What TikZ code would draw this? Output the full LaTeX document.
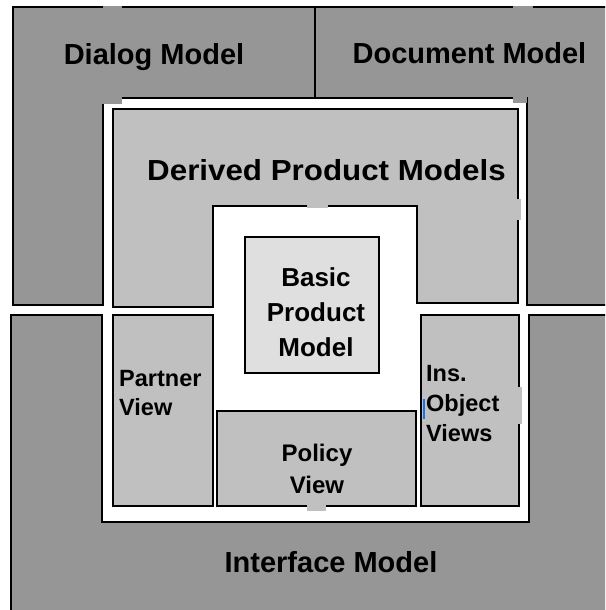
\documentclass[tikz,border=0pt]{standalone}
\usepackage{fontspec}
\usepackage{graphicx}
\setmainfont{Liberation Sans}
\definecolor{darkgrey}{HTML}{969696}
\definecolor{midgrey}{HTML}{C0C0C0}
\definecolor{lightgrey}{HTML}{DFDFDF}
\definecolor{caretblue}{HTML}{1A6EF0}
\begin{document}
\begin{tikzpicture}[x=1pt,y=-1pt,
  frame/.style={draw=black,line width=1.5pt,line join=miter},
  outerpart/.style={frame,fill=darkgrey},
  innerpart/.style={frame,fill=midgrey},
  corepart/.style={frame,fill=lightgrey},
  biglabel/.style={font=\bfseries\fontsize{29}{34}\selectfont,inner sep=0pt},
  boxlabel/.style={inner sep=0pt}]
\useasboundingbox (0,0) rectangle (605,610);
\clip (0,0) rectangle (605,610);

% outer ring: dialog, document and interface models
\draw[outerpart] (13,7) -- (315,7) -- (315,98) -- (103,98) -- (103,305) -- (13,305) -- cycle;
\draw[outerpart] (315,7) -- (615,7) -- (615,305) -- (527,305) -- (527,98) -- (315,98) -- cycle;
\draw[outerpart] (11,315) -- (102,315) -- (102,522) -- (529,522) -- (529,315)
  -- (615,315) -- (615,620) -- (11,620) -- cycle;
% small seams where the outer pieces meet
\fill[darkgrey] (103,6) rectangle (122,9);
\fill[darkgrey] (102,97) rectangle (122,104);
\fill[darkgrey] (513,6) rectangle (533,9);
\fill[darkgrey] (513,97) rectangle (527,103);

% derived product models (inverted U) and the three views
\draw[innerpart] (113,109) -- (518,109) -- (518,303) -- (417,303) -- (417,206)
  -- (213,206) -- (213,307) -- (113,307) -- cycle;
\fill[midgrey] (512,199) rectangle (521,220);
\fill[midgrey] (307,204) rectangle (328,208);
\draw[innerpart] (113,315) rectangle (213,506);
\draw[innerpart] (217,411) rectangle (416,506);
\draw[innerpart] (421,315) rectangle (519,506);
\fill[midgrey] (517,387) rectangle (522,424);
\fill[midgrey] (307,504) rectangle (326,511);

% basic product model at the core
\draw[corepart] (245,237) rectangle (379,373);

% labels
\node[biglabel,anchor=base] (dialog) at (154,64) {Dialog Model};
\node[biglabel,anchor=base] (document) at (469.5,63.5) {Document Model};
\node[biglabel,anchor=base] (derived) at (326.5,180) {\scalebox{1.08}[1]{Derived Product Models}};
\node[biglabel,anchor=base] (interface) at (331,572) {Interface Model};
\node[boxlabel,align=center,font=\bfseries\fontsize{26}{35}\selectfont] (basic) at (316,312.5) {Basic\\Product\\Model};
\node[boxlabel,align=center,font=\bfseries\fontsize{24}{31.5}\selectfont] (policy) at (317,469) {Policy\\View};
\node[boxlabel,align=left,anchor=west,font=\bfseries\fontsize{23.5}{29.5}\selectfont] (partner) at (119,393) {Partner\\View};
\node[boxlabel,align=left,anchor=west,font=\bfseries\fontsize{23.5}{30}\selectfont] (insobj) at (426,403.6) {Ins.\\Object\\Views};
\coordinate (caretTop) at (424,399);
\coordinate (caretBot) at (424,419);
\draw[caretblue,line width=1.2pt] (caretTop) -- (caretBot);
\end{tikzpicture}
\end{document}
